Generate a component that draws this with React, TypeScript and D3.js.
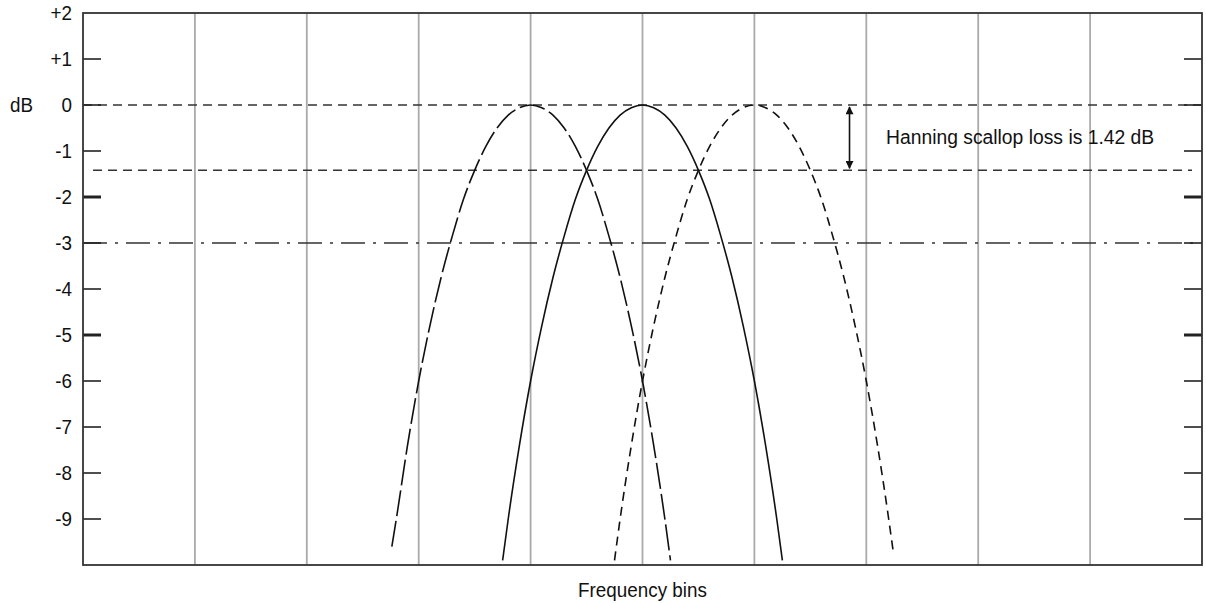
import React from "react";
import * as d3 from "d3";

// ---- Data ----
const yTicks = [1, 0, -1, -2, -3, -4, -5, -6, -7, -8, -9];
const yTickLabels = ["+2", "+1", "0", "-1", "-2", "-3", "-4", "-5", "-6", "-7", "-8", "-9"];
const yLabelValues = [2, 1, 0, -1, -2, -3, -4, -5, -6, -7, -8, -9];
const thickTicks = [-2, -5];
const gridBins = [1, 2, 3, 4, 5, 6, 7, 8, 9];

const leftBins = [2.76, 2.8, 2.9, 3.0, 3.1, 3.2, 3.3, 3.4, 3.5, 3.6, 3.7, 3.8, 3.9, 4.0, 4.1, 4.2, 4.3, 4.4, 4.5, 4.6, 4.7, 4.8, 4.9, 5.0, 5.1, 5.2, 5.25];
const leftDb = [-9.6, -9.0, -7.4, -6.0, -4.8, -3.75, -2.85, -2.05, -1.42, -0.9, -0.5, -0.22, -0.06, 0, -0.06, -0.22, -0.5, -0.9, -1.42, -2.05, -2.85, -3.75, -4.8, -6.0, -7.4, -9.0, -9.9];

const midBins = [3.75, 3.8, 3.9, 4.0, 4.1, 4.2, 4.3, 4.4, 4.5, 4.6, 4.7, 4.8, 4.9, 5.0, 5.1, 5.2, 5.3, 5.4, 5.5, 5.6, 5.7, 5.8, 5.9, 6.0, 6.1, 6.2, 6.25];
const midDb = [-9.9, -9.0, -7.4, -6.0, -4.8, -3.75, -2.85, -2.05, -1.42, -0.9, -0.5, -0.22, -0.06, 0, -0.06, -0.22, -0.5, -0.9, -1.42, -2.05, -2.85, -3.75, -4.8, -6.0, -7.4, -9.0, -9.9];

const rightBins = [4.75, 4.8, 4.9, 5.0, 5.1, 5.2, 5.3, 5.4, 5.5, 5.6, 5.7, 5.8, 5.9, 6.0, 6.1, 6.2, 6.3, 6.4, 6.5, 6.6, 6.7, 6.8, 6.9, 7.0, 7.1, 7.2, 7.24];
const rightDb = [-9.9, -9.0, -7.4, -6.0, -4.8, -3.75, -2.85, -2.05, -1.42, -0.9, -0.5, -0.22, -0.06, 0, -0.06, -0.22, -0.5, -0.9, -1.42, -2.05, -2.85, -3.75, -4.8, -6.0, -7.4, -9.0, -9.7];

const refZero = 0;
const refScallop = -1.42;
const refHalfPower = -3;
const arrowBin = 6.85;
const annotation = "Hanning scallop loss is 1.42 dB";
const xTitle = "Frequency bins";
const yTitle = "dB";

// ---- Layout ----
const W = 1206;
const H = 603;
const L = 83;
const R = 1202;
const T = 13;
const B = 565;
const FONT = "'Liberation Sans', Arial, Helvetica, sans-serif";
const FS = 20.5;
const SX = 0.92;

type TProps = { x: number; y: number; anchor?: string; dy?: string; size?: number; children: React.ReactNode };
function CText({ x, y, anchor = "start", dy = "0", size = FS, children }: TProps) {
  return (
    <text
      transform={`translate(${x},${y}) scale(${SX},1)`}
      dy={dy}
      textAnchor={anchor}
      fontSize={size}
      fill="#111"
    >
      {children}
    </text>
  );
}

export default function App() {
  const x = d3.scaleLinear().domain([0, 10]).range([L, R]);
  const y = d3.scaleLinear().domain([-10, 2]).range([B, T]);

  const line = d3
    .line<[number, number]>()
    .x((d) => x(d[0]))
    .y((d) => y(d[1]))
    .curve(d3.curveMonotoneX);

  const zip = (a: number[], b: number[]) => a.map((v, i) => [v, b[i]] as [number, number]);

  const curves = [
    { pts: zip(leftBins, leftDb), dash: "26 5" },
    { pts: zip(midBins, midDb), dash: "none" },
    { pts: zip(rightBins, rightDb), dash: "9 6" },
  ];

  const ax = x(arrowBin);
  const a0 = y(refZero) + 2;
  const a1 = y(refScallop) - 2;

  return (
    <svg
      width={W}
      height={H}
      style={{ position: "absolute", left: 0, top: 0, background: "#fff" }}
      fontFamily={FONT}
    >
      <rect x={0} y={0} width={W} height={H} fill="#fff" />
      {/* vertical grid */}
      {gridBins.map((b) => (
        <line key={b} x1={x(b)} x2={x(b)} y1={T} y2={B} stroke="#aaaaaa" strokeWidth={1.8} />
      ))}
      {/* reference lines */}
      <line x1={L} x2={R} y1={y(refZero)} y2={y(refZero)} stroke="#333" strokeWidth={1.6} strokeDasharray="9 6" />
      <line x1={L + 10} x2={R - 10} y1={y(refScallop)} y2={y(refScallop)} stroke="#333" strokeWidth={1.6} strokeDasharray="9 6" />
      <line x1={L} x2={R} y1={y(refHalfPower)} y2={y(refHalfPower)} stroke="#333" strokeWidth={1.6} strokeDasharray="24 8 3 8" />
      {/* curves */}
      {curves.map((c, i) => (
        <path key={i} d={line(c.pts) || ""} fill="none" stroke="#111" strokeWidth={1.6} strokeDasharray={c.dash} />
      ))}
      {/* ticks */}
      {yTicks.map((t) => (
        <g key={t}>
          <line x1={L} x2={L + 18} y1={y(t)} y2={y(t)} stroke="#222" strokeWidth={thickTicks.includes(t) ? 3 : 1.6} />
          <line x1={R - 18} x2={R} y1={y(t)} y2={y(t)} stroke="#222" strokeWidth={thickTicks.includes(t) ? 3 : 1.6} />
        </g>
      ))}
      {/* frame */}
      <rect x={L} y={T} width={R - L} height={B - T} fill="none" stroke="#333" strokeWidth={1.8} />
      {/* tick labels */}
      {yLabelValues.map((v, i) => (
        <CText key={v} x={72} y={y(v)} dy="0.36em" anchor="end">
          {yTickLabels[i]}
        </CText>
      ))}
      <CText x={10} y={y(0)} dy="0.36em">
        {yTitle}
      </CText>
      <CText x={(L + R) / 2} y={597} anchor="middle">
        {xTitle}
      </CText>
      {/* annotation arrow */}
      <defs>
        <marker id="ah" viewBox="0 0 10 10" refX="9" refY="5" markerWidth="9" markerHeight="8" orient="auto-start-reverse" markerUnits="userSpaceOnUse">
          <path d="M0,0 L10,5 L0,10 Z" fill="#111" />
        </marker>
      </defs>
      <line x1={ax} x2={ax} y1={a0} y2={a1} stroke="#111" strokeWidth={1.6} markerStart="url(#ah)" markerEnd="url(#ah)" />
      <CText x={886} y={144} size={FS + 0.5}>
        {annotation}
      </CText>
    </svg>
  );
}
